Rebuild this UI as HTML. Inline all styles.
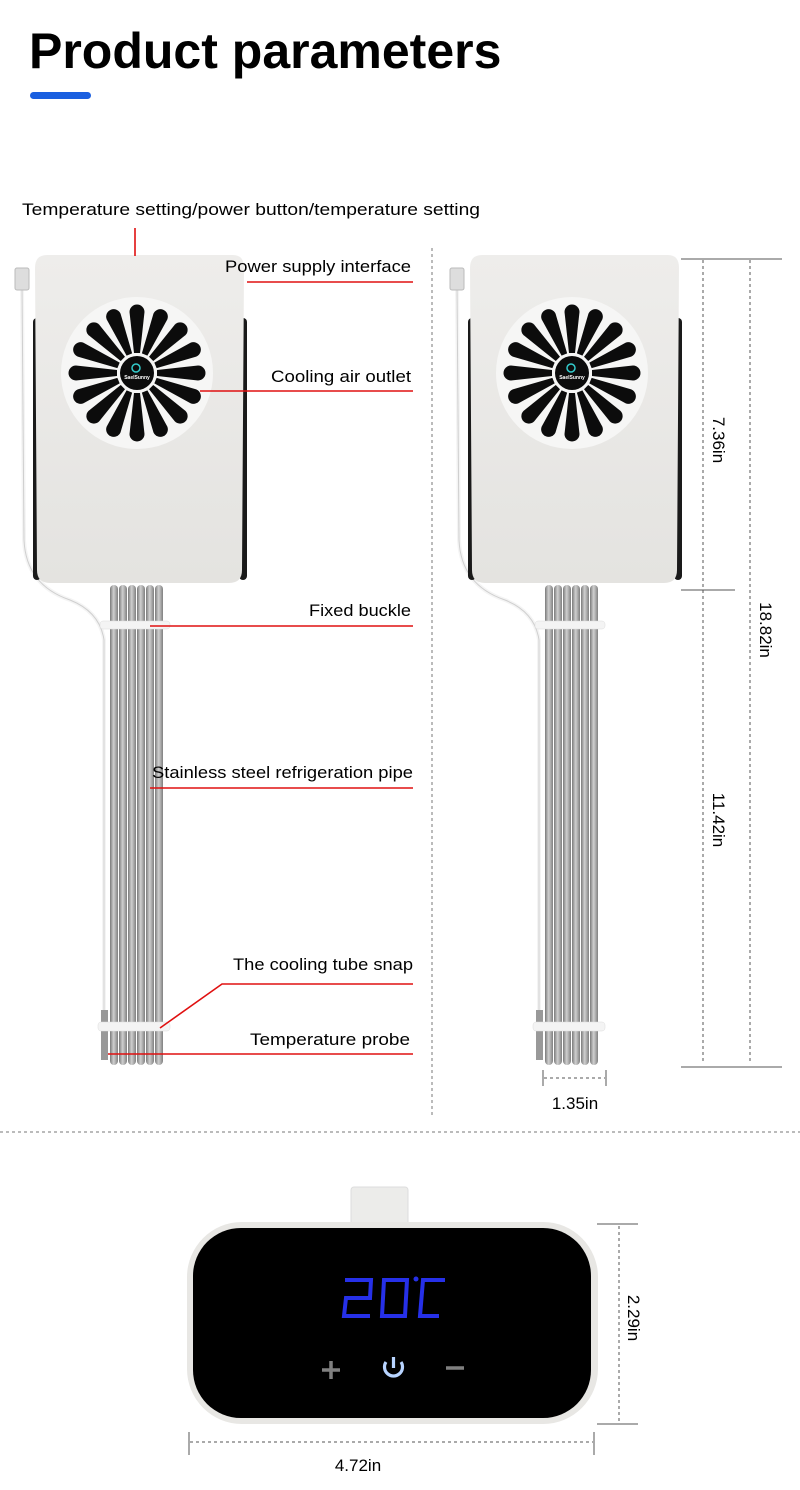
<!DOCTYPE html>
<html><head><meta charset="utf-8"><style>
html,body{margin:0;padding:0;background:#fff;}
svg{display:block;}
text{font-family:"Liberation Sans",sans-serif;}
</style></head><body>
<svg width="800" height="1490" viewBox="0 0 800 1490" xmlns="http://www.w3.org/2000/svg">
<defs>
<linearGradient id="pipe" x1="0" x2="1">
<stop offset="0" stop-color="#7a7a7a"/><stop offset="0.45" stop-color="#d0d0d0"/><stop offset="1" stop-color="#808080"/>
</linearGradient>
<linearGradient id="body" x1="0" x2="0" y1="0" y2="1">
<stop offset="0" stop-color="#eeedeb"/><stop offset="1" stop-color="#e4e3e0"/>
</linearGradient>
<path id="petal" d="M-3,-20 L-7.5,-61 A7.5,7.5 0 0 1 7.5,-61 L3,-20 Z" fill="#0c0c0c"/>
<g id="dev">
  <path d="M22,285 L24,540 Q26,585 70,600 Q100,612 104,640 L104,1040" fill="none" stroke="#f4f4f4" stroke-width="4"/>
  <path d="M22,285 L24,540 Q26,585 70,600 Q100,612 104,640 L104,1040" fill="none" stroke="#cfcfcf" stroke-width="1"/>
  <rect x="15" y="268" width="14" height="22" rx="2" fill="#ddd" stroke="#bbb"/>
  <rect x="101" y="1010" width="7" height="50" fill="#999"/>
  <g>
    <rect x="110" y="585" width="8" height="480" rx="4" fill="url(#pipe)"/>
    <rect x="119" y="585" width="8" height="480" rx="4" fill="url(#pipe)"/>
    <rect x="128" y="585" width="8" height="480" rx="4" fill="url(#pipe)"/>
    <rect x="137" y="585" width="8" height="480" rx="4" fill="url(#pipe)"/>
    <rect x="146" y="585" width="8" height="480" rx="4" fill="url(#pipe)"/>
    <rect x="155" y="585" width="8" height="480" rx="4" fill="url(#pipe)"/>
  </g>
  <rect x="100" y="621" width="70" height="8" rx="3" fill="#f4f4f4" stroke="#ddd" stroke-width="0.5"/>
  <rect x="98" y="1022" width="72" height="9" rx="3" fill="#f4f4f4" stroke="#ddd" stroke-width="0.5"/>
  <rect x="33" y="318" width="8" height="262" rx="4" fill="#1a1a1a"/>
  <rect x="239" y="318" width="8" height="262" rx="4" fill="#1a1a1a"/>
  <path d="M47,255 L233,255 Q244,255 244,268 L242,570 Q242,583 229,583 L50,583 Q37,583 37,570 L35,268 Q35,255 47,255 Z" fill="url(#body)"/>
  <circle cx="137" cy="373" r="76" fill="#f6f6f5"/>
  <g transform="translate(137,373)">
    <use href="#petal" transform="rotate(0)"/><use href="#petal" transform="rotate(22.5)"/>
    <use href="#petal" transform="rotate(45)"/><use href="#petal" transform="rotate(67.5)"/>
    <use href="#petal" transform="rotate(90)"/><use href="#petal" transform="rotate(112.5)"/>
    <use href="#petal" transform="rotate(135)"/><use href="#petal" transform="rotate(157.5)"/>
    <use href="#petal" transform="rotate(180)"/><use href="#petal" transform="rotate(202.5)"/>
    <use href="#petal" transform="rotate(225)"/><use href="#petal" transform="rotate(247.5)"/>
    <use href="#petal" transform="rotate(270)"/><use href="#petal" transform="rotate(292.5)"/>
    <use href="#petal" transform="rotate(315)"/><use href="#petal" transform="rotate(337.5)"/>
    <circle r="17" fill="#0c0c0c"/>
    <circle cx="-1" cy="-5" r="4" fill="none" stroke="#3cc" stroke-width="1.5"/>
    <text x="0" y="6" font-size="5" fill="#fff" text-anchor="middle" font-weight="bold">SaelSunny</text>
  </g>
</g>
</defs>

<text x="29" y="68" font-size="50" font-weight="bold" fill="#000">Product parameters</text>
<rect x="30" y="92" width="61" height="7" rx="3.5" fill="#1a5fe0"/>

<use href="#dev"/>
<use href="#dev" transform="translate(435,0)"/>

<g font-size="17" fill="#000">
<text x="22" y="215" textLength="458" lengthAdjust="spacingAndGlyphs">Temperature setting/power button/temperature setting</text>
<text x="225" y="272" textLength="186" lengthAdjust="spacingAndGlyphs">Power supply interface</text>
<text x="271" y="382" textLength="140" lengthAdjust="spacingAndGlyphs">Cooling air outlet</text>
<text x="309" y="616" textLength="102" lengthAdjust="spacingAndGlyphs">Fixed buckle</text>
<text x="152" y="778" textLength="261" lengthAdjust="spacingAndGlyphs">Stainless steel refrigeration pipe</text>
<text x="233" y="970" textLength="180" lengthAdjust="spacingAndGlyphs">The cooling tube snap</text>
<text x="250" y="1045" textLength="160" lengthAdjust="spacingAndGlyphs">Temperature probe</text>
</g>
<g stroke="#e01010" stroke-width="1.6" fill="none">
<line x1="135" y1="228" x2="135" y2="256"/>
<line x1="247" y1="282" x2="413" y2="282"/>
<line x1="200" y1="391" x2="413" y2="391"/>
<line x1="150" y1="626" x2="413" y2="626"/>
<line x1="150" y1="788" x2="413" y2="788"/>
<polyline points="160,1028 222,984 413,984"/>
<line x1="108" y1="1054" x2="413" y2="1054"/>
</g>

<line x1="432" y1="248" x2="432" y2="1115" stroke="#777" stroke-width="1" stroke-dasharray="3,3"/>
<line x1="0" y1="1132" x2="800" y2="1132" stroke="#777" stroke-width="1" stroke-dasharray="3,3"/>

<g stroke="#555" stroke-width="1">
<line x1="681" y1="259" x2="782" y2="259"/>
<line x1="681" y1="590" x2="735" y2="590"/>
<line x1="681" y1="1067" x2="782" y2="1067"/>
<line x1="703" y1="260" x2="703" y2="1062" stroke-dasharray="3,3"/>
<line x1="750" y1="260" x2="750" y2="1062" stroke-dasharray="3,3"/>
<line x1="543" y1="1070" x2="543" y2="1086"/>
<line x1="606" y1="1070" x2="606" y2="1086"/>
<line x1="544" y1="1078" x2="605" y2="1078" stroke-dasharray="3,3"/>
</g>
<g font-size="17" fill="#000">
<text transform="translate(713,440) rotate(90)" text-anchor="middle">7.36in</text>
<text transform="translate(713,820) rotate(90)" text-anchor="middle">11.42in</text>
<text transform="translate(760,630) rotate(90)" text-anchor="middle">18.82in</text>
<text x="575" y="1109" text-anchor="middle">1.35in</text>
</g>

<rect x="351" y="1187" width="57" height="40" rx="3" fill="#ececea" stroke="#ddd"/>
<rect x="187" y="1222" width="411" height="202" rx="55" fill="#e8e7e4"/>
<rect x="193" y="1228" width="398" height="190" rx="48" fill="#000"/>
<g stroke="#2630e8" stroke-width="4" stroke-linecap="square" fill="none">
  <polyline points="347,1280 371,1280 370,1298 346,1298 344,1316 368,1316"/>
  <polygon points="384,1280 407,1280 405,1316 382,1316"/>
  <polyline points="443,1280 423,1280 420,1316 437,1316"/>
</g>
<circle cx="416" cy="1279" r="2.5" fill="#2630e8"/>
<g stroke="#808080" stroke-width="3.5">
<line x1="322" y1="1370" x2="340" y2="1370"/><line x1="331" y1="1361" x2="331" y2="1379"/>
<line x1="446" y1="1368" x2="464" y2="1368"/>
</g>
<path d="M386,1362 A9,9 0 1 0 401,1362" fill="none" stroke="#b8d4ff" stroke-width="3.2"/>
<line x1="393.5" y1="1357" x2="393.5" y2="1368" stroke="#b8d4ff" stroke-width="3.2"/>

<g stroke="#555" stroke-width="1">
<line x1="597" y1="1224" x2="638" y2="1224"/>
<line x1="597" y1="1424" x2="638" y2="1424"/>
<line x1="619" y1="1226" x2="619" y2="1422" stroke-dasharray="3,3"/>
<line x1="189" y1="1432" x2="189" y2="1455"/>
<line x1="594" y1="1432" x2="594" y2="1455"/>
<line x1="190" y1="1442" x2="593" y2="1442" stroke-dasharray="3,3"/>
</g>
<g font-size="17" fill="#000">
<text transform="translate(628,1318) rotate(90)" text-anchor="middle">2.29in</text>
<text x="358" y="1471" text-anchor="middle">4.72in</text>
</g>
</svg>
</body></html>
